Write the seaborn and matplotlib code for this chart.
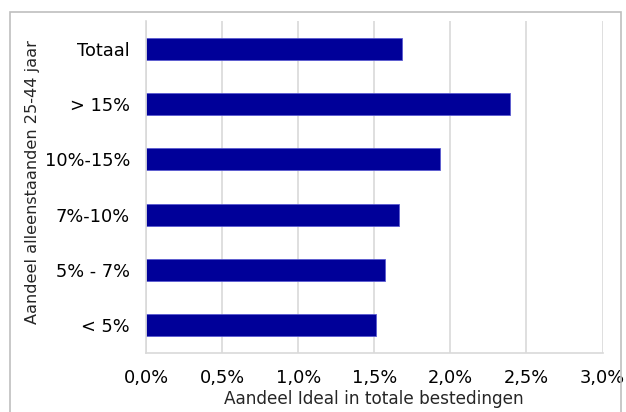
import matplotlib
matplotlib.use("Agg")
import matplotlib.pyplot as plt
import seaborn as sns
import pandas as pd
from matplotlib.patches import Rectangle
from matplotlib.ticker import FuncFormatter

categories = ["Totaal", "> 15%", "10%-15%", "7%-10%", "5% - 7%", "< 5%"]
values = [1.68, 2.39, 1.93, 1.66, 1.57, 1.51]
x_ticks = [0.0, 0.5, 1.0, 1.5, 2.0, 2.5, 3.0]
x_label = "Aandeel Ideal in totale bestedingen"
y_label = "Aandeel alleenstaanden 25-44 jaar"

df = pd.DataFrame({"cat": categories, "val": values})

sns.set_style("white")
plt.rcParams["font.family"] = ["DejaVu Sans"]

fig = plt.figure(figsize=(6.26, 4.12), dpi=100)
ax = fig.add_axes([0.2332, 0.144, 0.7293, 0.804])

sns.barplot(data=df, x="val", y="cat", orient="h", color="#000099",
            width=0.4, saturation=1, edgecolor="#5a5ad0", linewidth=0.6, ax=ax)

ax.set_xlim(0, 3.0)
ax.set_ylim(len(categories) - 0.5, -0.5)
ax.set_xticks(x_ticks)
ax.xaxis.set_major_formatter(FuncFormatter(lambda v, p: f"{v:.1f}".replace(".", ",") + "%"))
ax.grid(axis="x", color="#d9d9d9", linewidth=1.2)
ax.set_axisbelow(True)

for s in ["top", "right"]:
    ax.spines[s].set_visible(False)
for s in ["left", "bottom"]:
    ax.spines[s].set_color("#d9d9d9")
    ax.spines[s].set_linewidth(1.2)

ax.set_yticks(range(len(categories)))
ax.set_yticklabels(categories)
ax.tick_params(axis="y", length=0, labelsize=12.8, pad=11.5, colors="black")
ax.tick_params(axis="x", length=4, width=1.2, labelsize=12.8, pad=7.5,
               colors="#d9d9d9", labelcolor="black")

# minor ticks on the y axis at category boundaries
ax.set_yticks([i - 0.5 for i in range(len(categories) + 1)], minor=True)
ax.tick_params(axis="y", which="minor", length=4, color="#d9d9d9", width=1.2)

ax.set_xlabel(x_label, fontsize=12.2, labelpad=2.5)
ax.set_ylabel(y_label, fontsize=11.6)
ax.yaxis.set_label_coords(-0.2325, 0.514)

fig.patches.append(Rectangle((10 / 626, -0.05), 611 / 626, 1 - 12 / 412 + 0.05,
                             transform=fig.transFigure, fill=False,
                             edgecolor="#bfbfbf", linewidth=1.2))

fig.savefig("out.png", dpi=100)
